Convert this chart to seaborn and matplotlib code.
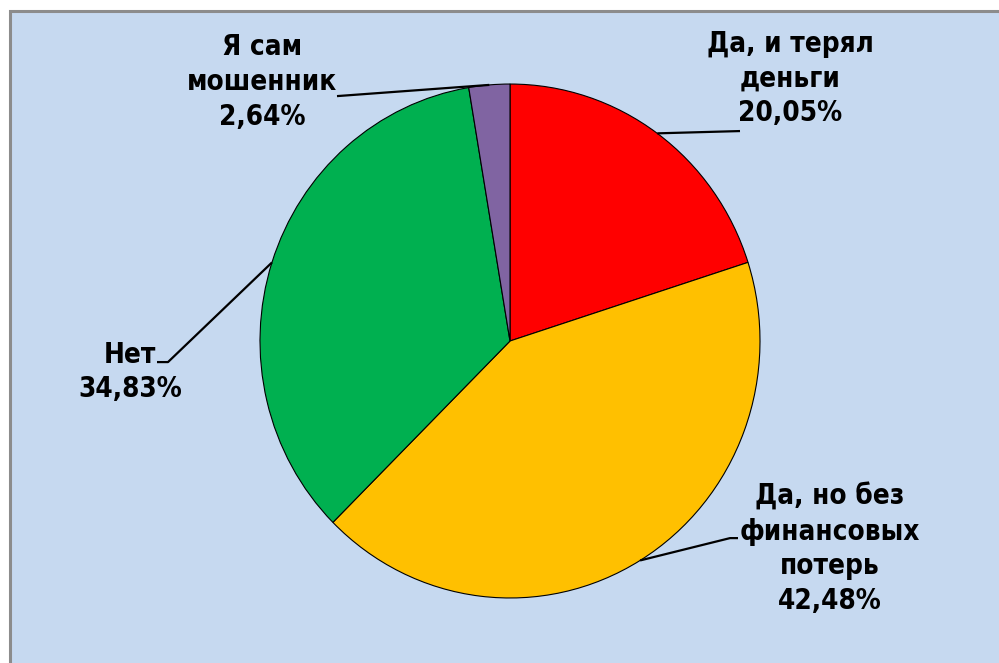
import seaborn as sns
import matplotlib.pyplot as plt
import numpy as np
from matplotlib.patches import Rectangle

labels = ["Да, и терял\nденьги", "Да, но без\nфинансовых\nпотерь", "Нет", "Я сам\nмошенник"]
shares = [20.05, 42.48, 34.83, 2.64]
colors = ["#FF0000", "#FFC000", "#00B050", "#8064A2"]

# label centres and leader elbows, in pie-radius units
label_pos = [(1.12, 1.023), (1.28, -0.809), (-1.52, -0.121), (-0.992, 1.008)]
elbows = [[(0.92, 0.817)],
          [(0.88, -0.767), (0.912, -0.767)],
          [(-1.368, -0.082), (-1.412, -0.082)],
          [(-0.692, 0.953)]]

sns.set_theme(style="white")
plt.rcParams["font.family"] = ["DejaVu Sans"]
plt.rcParams["font.stretch"] = "condensed"

fig = plt.figure(figsize=(9.99, 6.63), dpi=100)
fig.patch.set_facecolor("white")
fig.patches.append(Rectangle((10 / 999, -0.02), 1.0, 1 - 11 / 663 + 0.02,
                             transform=fig.transFigure, facecolor="#C6D9F0",
                             edgecolor="#8C8C8C", linewidth=2.2, zorder=-5))

ax = fig.add_axes([0, 0, 1, 1])
ax.set_facecolor("none")
wedges, _ = ax.pie(shares, colors=colors, startangle=90, counterclock=False,
                   radius=1.0, wedgeprops=dict(edgecolor="black", linewidth=0.8))
ax.set_xlim(-2.04, 1.956)
ax.set_ylim(-1.253, 1.327)
ax.set_aspect("auto")
ax.axis("off")

for w, lab, val, pos, elb in zip(wedges, labels, shares, label_pos, elbows):
    mid = np.deg2rad((w.theta1 + w.theta2) / 2)
    pts = [(np.cos(mid), np.sin(mid))] + elb
    xs, ys = zip(*pts)
    ax.plot(xs, ys, color="black", linewidth=1.6, solid_capstyle="butt")
    txt = lab + "\n" + f"{val:.2f}%".replace(".", ",")
    ax.text(pos[0], pos[1], txt, ha="center", va="center", fontsize=20,
            fontweight="bold", fontstretch="condensed", linespacing=1.3,
            color="black")

fig.savefig("out.png", dpi=100)
